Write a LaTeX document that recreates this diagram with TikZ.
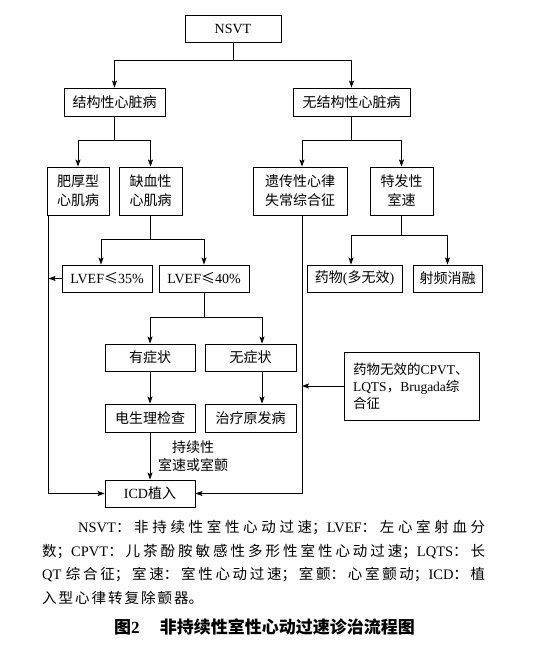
\documentclass[tikz,border=0pt]{standalone}
\usepackage{fontspec}
\setmainfont{Noto Sans CJK SC}
\newfontfamily\tmfont{Liberation Serif}
\newcommand{\tm}[1]{{\tmfont #1}}
\usetikzlibrary{arrows.meta}
\begin{document}
\begin{tikzpicture}[x=1pt,y=-1pt,
  box/.style={draw,line width=0.9pt,inner sep=0pt,minimum height=27pt,font=\fontsize{14}{19}\selectfont,align=center},
  ln/.style={line width=0.8pt},
  arr/.style={ln,-{Stealth[length=7pt,width=5pt,inset=1.5pt]}}]
\useasboundingbox (0,0) rectangle (541,651);
\fill[white] (0,0) rectangle (541,651);
% boxes
\node[box,minimum width=96pt] (nsvt) at (233,28.5) {\tm{NSVT}};
\node[box,minimum width=101pt,minimum height=28pt] (sh) at (114.5,102) {结构性心脏病};
\node[box,minimum width=117pt,minimum height=28pt] (nsh) at (351.5,102) {无结构性心脏病};
\node[box,minimum width=62pt,minimum height=48pt] (hcm) at (78,191) {肥厚型\\心肌病};
\node[box,minimum width=63pt,minimum height=48pt] (icm) at (150.5,191) {缺血性\\心肌病};
\node[box,minimum width=94pt,minimum height=48pt] (gen) at (300,191) {遗传性心律\\失常综合征};
\node[box,minimum width=63pt,minimum height=48pt] (idio) at (401.5,191) {特发性\\室速};
\node[box,minimum width=90pt] (lv35) at (107,278.5) {\tm{LVEF}≤\tm{35\%}};
\node[box,minimum width=90pt] (lv40) at (204,278.5) {\tm{LVEF}≤\tm{40\%}};
\node[box,minimum width=95pt] (drug) at (354.5,278.5) {药物\tm{(}多无效\tm{)}};
\node[box,minimum width=69pt] (rfa) at (447.5,278.5) {射频消融};
\node[box,minimum width=90pt] (sym) at (150,357.5) {有症状};
\node[box,minimum width=91pt] (asym) at (250.5,357.5) {无症状};
\node[box,minimum width=90pt,minimum height=28pt] (eps) at (150,418) {电生理检查};
\node[box,minimum width=91pt,minimum height=28pt] (treat) at (250.5,418) {治疗原发病};
\node[box,minimum width=90pt] (icd) at (150,493.5) {{\tmfont ICD}植入};
\node[box,minimum width=135pt,minimum height=68pt,align=left,text width=117pt,inner xsep=9pt,
      font=\fontsize{13.5}{17}\selectfont] (fail) at (411.5,386)
      {药物无效的\tm{CPVT}、\\\tm{LQTS}，\tm{Brugada}综\\合征};
\node[font=\fontsize{14}{18}\selectfont,align=center,inner sep=0pt] (lab) at (193,456) {持续性\\室速或室颤};
% connectors
\coordinate (j1) at (233,60);
\draw[ln] (nsvt.south) -- (j1);
\draw[arr] (j1) -| (sh.north);
\draw[arr] (j1) -| (nsh.north);
\coordinate (j2) at (114.5,140);
\draw[ln] (sh.south) -- (j2);
\draw[arr] (j2) -| (hcm.north);
\draw[arr] (j2) -| (icm.north);
\coordinate (j3) at (351.5,140);
\draw[ln] (nsh.south) -- (j3);
\draw[arr] (j3) -| ([xshift=2pt]gen.north);
\draw[arr] (j3) -| (idio.north);
\coordinate (j4) at (150.5,239);
\draw[ln] (icm.south) -- (j4);
\draw[arr] (j4) -| ([xshift=-6pt]lv35.north);
\draw[arr] (j4) -| (lv40.north);
\coordinate (j5) at (401.5,235);
\draw[ln] (idio.south) -- (j5);
\draw[arr] (j5) -| ([xshift=-3.5pt]drug.north);
\draw[arr] (j5) -| (rfa.north);
\coordinate (j6) at (204,317);
\draw[ln] (lv40.south) -- (j6);
\draw[arr] (j6) -| (sym.north);
\draw[arr] (j6) -| ([xshift=11.5pt]asym.north);
\draw[arr] (sym) -- (eps);
\draw[arr] ([xshift=11.5pt]asym.south) -- ([xshift=11.5pt]treat.north);
\draw[arr] (eps) -- (icd);
\coordinate (hl) at ([xshift=2pt]hcm.south west);
\draw[arr] (hl) |- (icd.west);
\draw[arr] (lv35.west) -- (lv35.west -| hl);
\coordinate (gl) at ([xshift=2pt]gen.south);
\draw[arr] (gl) |- (icd.east);
\draw[arr] (fail.west) -- (fail.west -| gl);
% caption
\node[anchor=north west,text width=443pt,align=justify,inner sep=0pt,
      font=\fontsize{14.5}{23.7}\selectfont] (cap) at (42,520)
  {\XeTeXlinebreaklocale "zh"\XeTeXlinebreakskip=2pt plus 1pt minus 1.5pt\hspace*{36pt}\tm{NSVT}：非持续性室性心动过速；\tm{LVEF}：左心室射血分\linebreak 数；\tm{CPVT}：儿茶酚胺敏感性多形性室性心动过速；\tm{LQTS}：长\linebreak \tm{QT} 综合征；室速：室性心动过速；室颤：心室颤动；\tm{ICD}：植\linebreak 入型心律转复除颤器。};
\node[font=\fontsize{17}{20}\selectfont\bfseries,inner sep=0pt] (title) at (264.5,627)
  {图{\tmfont\bfseries 2}\hspace{1.2em}非持续性室性心动过速诊治流程图};
\end{tikzpicture}
\end{document}
